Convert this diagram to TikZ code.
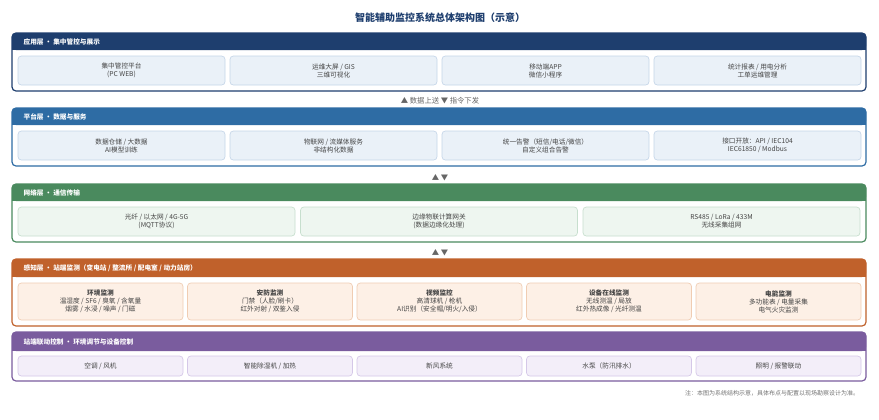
\documentclass[tikz,border=0pt]{standalone}
\usepackage{fontspec}
\setmainfont{Noto Sans CJK SC}
\usetikzlibrary{positioning}
\definecolor{cA}{HTML}{1E3E6E}\definecolor{fA}{HTML}{EAF1F8}\definecolor{bA}{HTML}{C5D6E8}
\definecolor{cB}{HTML}{2E6CA4}
\definecolor{cC}{HTML}{4A8A5E}\definecolor{fC}{HTML}{EEF6F0}\definecolor{bC}{HTML}{C7DFCE}
\definecolor{cD}{HTML}{C0612B}\definecolor{fD}{HTML}{FDF0E6}\definecolor{bD}{HTML}{F0CDB3}
\definecolor{cE}{HTML}{7A5C9E}\definecolor{fE}{HTML}{F3EEF9}\definecolor{bE}{HTML}{D5C8E8}
\definecolor{txt}{HTML}{444444}
\tikzset{every picture/.style={line width=0.75pt},
  cell/.style={draw=#1, line width=0.5pt, rounded corners=2.5pt, inner sep=0pt, align=center,
    font=\fontsize{5}{6}\selectfont, text=txt},
  head/.style={font=\fontsize{5}{6}\selectfont\bfseries, text=white, anchor=west},
  link/.style={font=\fontsize{5.5}{6}\selectfont, text=black!60}}

\newcommand{\layer}[5]{% name, top, bottom, header bottom, colour
  \fill[white, draw=#5, line width=0.9pt, rounded corners=3pt] (12,#2) rectangle (866,#3);
  \fill[#5, rounded corners=3pt] (12,#2) rectangle (866,#4);
  \fill[#5] (12,#4-4) rectangle (866,#4);
  \coordinate (#1) at (12,{(#2+#4)/2});}

\begin{document}
\begin{tikzpicture}[x=0.75pt,y=0.75pt,yscale=-1,xscale=1]
	\useasboundingbox (0,0) rectangle (879,419);

	% Title
	\node (title) at (440,18) {\fontsize{7.5}{8}\selectfont\bfseries\color{cA}智能辅助监控系统总体架构图（示意）};

	% application layer
	\layer{app}{33}{91}{50}{cA}
	\node[head] (appH) at ([xshift=5]app) {应用层 · 集中管控与展示};
	\foreach \i/\t in {0/{集中管控平台\\(PC WEB)},1/{运维大屏 / GIS\\三维可视化},2/{移动端APP\\微信小程序},3/{统计报表 / 用电分析\\工单运维管理}}
		\node[cell=bA, fill=fA, minimum width=155.25pt, minimum height=21.75pt] (app\i) at (121.5+212*\i,70.5) {\t};

	\node[link] (lk1) at (440,101) {▲ 数据上送 ▼ 指令下发};

	% platform layer
	\layer{plt}{108}{166}{125}{cB}
	\node[head] (pltH) at ([xshift=5]plt) {平台层 · 数据与服务};
	\foreach \i/\t in {0/{数据仓储 / 大数据\\AI模型训练},1/{物联网 / 流媒体服务\\非结构化数据},2/{统一告警（短信/电话/微信）\\自定义组合告警},3/{接口开放：API / IEC104\\IEC61850 / Modbus}}
		\node[cell=bA, fill=fA, minimum width=155.25pt, minimum height=21.75pt] (plt\i) at (121.5+212*\i,145.5) {\t};

	\node[link] (lk2) at (440,178) {▲ ▼};

	% network layer
	\layer{net}{184}{242}{201}{cC}
	\node[head] (netH) at ([xshift=5]net) {网络层 · 通信传输};
	\foreach \i/\t in {0/{光纤 / 以太网 / 4G-5G\\(MQTT协议)},1/{边缘物联计算网关\\(数据边缘化处理)},2/{RS485 / LoRa / 433M\\无线采集组网}}
		\node[cell=bC, fill=fC, minimum width=207.75pt, minimum height=21.75pt] (net\i) at (156.5+282.5*\i,221.5) {\t};

	\node[link] (lk3) at (440,253) {▲ ▼};

	% sensing layer
	\layer{sen}{259}{326}{277}{cD}
	\node[head] (senH) at ([xshift=5]sen) {感知层 · 站端监测（变电站 / 整流所 / 配电室 / 动力站房）};
	\foreach \i/\t in {0/{\textbf{环境监测}\\温湿度 / SF6 / 臭氧 / 含氧量\\烟雾 / 水浸 / 噪声 / 门磁},1/{\textbf{安防监测}\\门禁（人脸/刷卡）\\红外对射 / 双鉴入侵},2/{\textbf{视频监控}\\高清球机 / 枪机\\AI识别（安全帽/明火/入侵）},3/{\textbf{设备在线监测}\\无线测温 / 局放\\红外热成像 / 光纤测温},4/{\textbf{电能监测}\\多功能表 / 电量采集\\电气火灾监测}}
		\node[cell=bD, fill=fD, minimum width=123.75pt, minimum height=27.75pt] (sen\i) at (100.5+169.5*\i,301.5) {\t};

	% control layer
	\layer{ctl}{332}{381}{351}{cE}
	\node[head] (ctlH) at ([xshift=5]ctl) {站端联动控制 · 环境调节与设备控制};
	\foreach \i/\t in {0/{空调 / 风机},1/{智能除湿机 / 加热},2/{新风系统},3/{水泵（防汛排水）},4/{照明 / 报警联动}}
		\node[cell=bE, fill=fE, minimum width=123.75pt, minimum height=15pt] (ctl\i) at (100.5+169.5*\i,366) {\t};

	% Note
	\node[anchor=east, font=\fontsize{4.5}{5}\selectfont, text=black!55] (note) at (864,393) {注：本图为系统结构示意，具体布点与配置以现场勘察设计为准。};
\end{tikzpicture}
\end{document}
